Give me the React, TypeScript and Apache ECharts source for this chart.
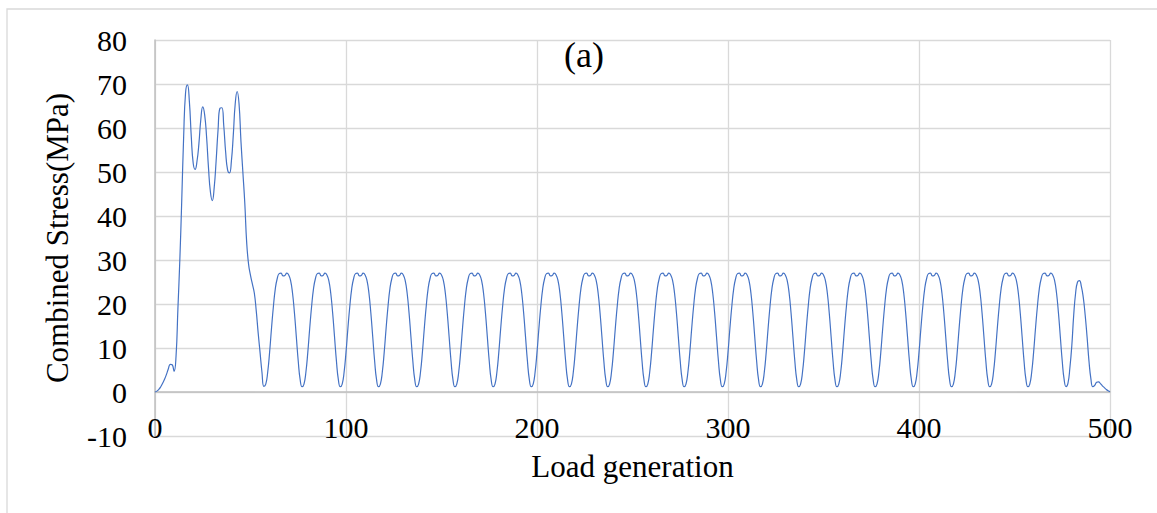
import React, { useEffect, useRef } from "react";
import * as echarts from "echarts";

// Load generation 0..56: ramp and initial high-stress peaks
const rampStress: number[] = [
  0, 0.2, 0.6, 1.2, 2.0, 2.9, 4.0, 5.3, 6.3, 6.2,
  4.7, 8.0, 19.0, 30.0, 43.5, 58.0, 68.0, 69.8, 66.0, 58.0,
  52.0, 50.6, 52.5, 56.5, 62.0, 64.8, 63.0, 58.0, 51.0, 45.5,
  43.5, 46.5, 52.5, 59.5, 64.5, 64.6, 60.5, 54.5, 50.5, 49.8,
  52.5, 58.5, 65.5, 68.3, 65.5, 57.0, 50.0, 43.0, 34.0, 29.0,
  26.5, 24.5, 22.5, 18.5, 13.5, 9.0, 4.5,
];

// Load generation 57..476: one row per cycle of 20 generations
const cyclicStress: number[][] = [
  [1.3, 1.8, 4.5, 9.0, 14.5, 19.5, 23.5, 25.8, 26.9, 27.0, 26.4, 26.5, 27.0, 26.6, 25.3, 22.5, 18.0, 12.5, 7.0, 2.8],
  [1.2, 1.8, 4.5, 9.0, 14.5, 19.5, 23.5, 25.8, 26.9, 27.0, 26.4, 26.5, 27.0, 26.6, 25.3, 22.5, 18.0, 12.5, 7.0, 2.8],
  [1.2, 1.8, 4.5, 9.0, 14.5, 19.5, 23.5, 25.8, 26.9, 27.0, 26.4, 26.5, 27.0, 26.6, 25.3, 22.5, 18.0, 12.5, 7.0, 2.8],
  [1.2, 1.8, 4.5, 9.0, 14.5, 19.5, 23.5, 25.8, 26.9, 27.0, 26.4, 26.5, 27.0, 26.6, 25.3, 22.5, 18.0, 12.5, 7.0, 2.8],
  [1.2, 1.8, 4.5, 9.0, 14.5, 19.5, 23.5, 25.8, 26.9, 27.0, 26.4, 26.5, 27.0, 26.6, 25.3, 22.5, 18.0, 12.5, 7.0, 2.8],
  [1.2, 1.8, 4.5, 9.0, 14.5, 19.5, 23.5, 25.8, 26.9, 27.0, 26.4, 26.5, 27.0, 26.6, 25.3, 22.5, 18.0, 12.5, 7.0, 2.8],
  [1.2, 1.8, 4.5, 9.0, 14.5, 19.5, 23.5, 25.8, 26.9, 27.0, 26.4, 26.5, 27.0, 26.6, 25.3, 22.5, 18.0, 12.5, 7.0, 2.8],
  [1.2, 1.8, 4.5, 9.0, 14.5, 19.5, 23.5, 25.8, 26.9, 27.0, 26.4, 26.5, 27.0, 26.6, 25.3, 22.5, 18.0, 12.5, 7.0, 2.8],
  [1.2, 1.8, 4.5, 9.0, 14.5, 19.5, 23.5, 25.8, 26.9, 27.0, 26.4, 26.5, 27.0, 26.6, 25.3, 22.5, 18.0, 12.5, 7.0, 2.8],
  [1.2, 1.8, 4.5, 9.0, 14.5, 19.5, 23.5, 25.8, 26.9, 27.0, 26.4, 26.5, 27.0, 26.6, 25.3, 22.5, 18.0, 12.5, 7.0, 2.8],
  [1.2, 1.8, 4.5, 9.0, 14.5, 19.5, 23.5, 25.8, 26.9, 27.0, 26.4, 26.5, 27.0, 26.6, 25.3, 22.5, 18.0, 12.5, 7.0, 2.8],
  [1.2, 1.8, 4.5, 9.0, 14.5, 19.5, 23.5, 25.8, 26.9, 27.0, 26.4, 26.5, 27.0, 26.6, 25.3, 22.5, 18.0, 12.5, 7.0, 2.8],
  [1.2, 1.8, 4.5, 9.0, 14.5, 19.5, 23.5, 25.8, 26.9, 27.0, 26.4, 26.5, 27.0, 26.6, 25.3, 22.5, 18.0, 12.5, 7.0, 2.8],
  [1.2, 1.8, 4.5, 9.0, 14.5, 19.5, 23.5, 25.8, 26.9, 27.0, 26.4, 26.5, 27.0, 26.6, 25.3, 22.5, 18.0, 12.5, 7.0, 2.8],
  [1.2, 1.8, 4.5, 9.0, 14.5, 19.5, 23.5, 25.8, 26.9, 27.0, 26.4, 26.5, 27.0, 26.6, 25.3, 22.5, 18.0, 12.5, 7.0, 2.8],
  [1.2, 1.8, 4.5, 9.0, 14.5, 19.5, 23.5, 25.8, 26.9, 27.0, 26.4, 26.5, 27.0, 26.6, 25.3, 22.5, 18.0, 12.5, 7.0, 2.8],
  [1.2, 1.8, 4.5, 9.0, 14.5, 19.5, 23.5, 25.8, 26.9, 27.0, 26.4, 26.5, 27.0, 26.6, 25.3, 22.5, 18.0, 12.5, 7.0, 2.8],
  [1.2, 1.8, 4.5, 9.0, 14.5, 19.5, 23.5, 25.8, 26.9, 27.0, 26.4, 26.5, 27.0, 26.6, 25.3, 22.5, 18.0, 12.5, 7.0, 2.8],
  [1.2, 1.8, 4.5, 9.0, 14.5, 19.5, 23.5, 25.8, 26.9, 27.0, 26.4, 26.5, 27.0, 26.6, 25.3, 22.5, 18.0, 12.5, 7.0, 2.8],
  [1.2, 1.8, 4.5, 9.0, 14.5, 19.5, 23.5, 25.8, 26.9, 27.0, 26.4, 26.5, 27.0, 26.6, 25.3, 22.5, 18.0, 12.5, 7.0, 2.8],
  [1.2, 1.8, 4.5, 9.0, 14.5, 19.5, 23.5, 25.8, 26.9, 27.0, 26.4, 26.5, 27.0, 26.6, 25.3, 22.5, 18.0, 12.5, 7.0, 2.8],
];

// Load generation 477..500: final shorter peak and decay
const tailStress: number[] = [
  1.2, 2.0, 5.5, 10.5, 17.5, 22.5, 25.0, 25.3, 24.0, 21.5,
  17.5, 12.5, 7.0, 3.0, 1.2, 1.5, 2.2, 2.3, 1.9, 1.4,
  1.0, 0.6, 0.3, 0.1,
];

const xTicks = { min: 0, max: 500, interval: 100 };
const yTicks = { min: -10, max: 80, interval: 10 };
const xName = "Load generation";
const yName = "Combined Stress(MPa)";
const panelLabel = "(a)";

const FONT = "Liberation Serif";

export default function App() {
  const ref = useRef<HTMLDivElement>(null);
  useEffect(() => {
    if (!ref.current) return;
    const chart = echarts.init(ref.current, null, { renderer: "svg" });
    const stress = [...rampStress, ...cyclicStress.flat(), ...tailStress];
    const data = stress.map((v, i) => [i, v]);
    const labelStyle = { fontFamily: FONT, fontSize: 30, color: "#000" };
    chart.setOption({
      animation: false,
      backgroundColor: "#ffffff",
      textStyle: { fontFamily: FONT },
      grid: {
        left: 155,
        top: 40,
        right: 47,
        bottom: 77,
        containLabel: false,
        outerBoundsMode: "none",
      },
      graphic: [
        {
          type: "rect",
          shape: { x: 7, y: 9, width: 1160, height: 520 },
          style: { fill: "none", stroke: "#d9d9d9", lineWidth: 1.3 },
          silent: true,
        },
        {
          type: "text",
          x: 584,
          y: 55,
          style: {
            text: panelLabel,
            fontFamily: FONT,
            fontSize: 36,
            fill: "#000",
            align: "center",
            verticalAlign: "middle",
          },
        },
      ],
      xAxis: {
        type: "value",
        min: xTicks.min,
        max: xTicks.max,
        interval: xTicks.interval,
        name: xName,
        nameLocation: "middle",
        nameGap: 15,
        nameTextStyle: { fontFamily: FONT, fontSize: 31, color: "#000" },
        axisLine: { show: true, onZero: true, lineStyle: { color: "#bfbfbf", width: 1.5 } },
        axisTick: { show: false },
        axisLabel: { ...labelStyle, margin: -24 },
        splitLine: { show: true, lineStyle: { color: "#d9d9d9", width: 1.3 } },
      },
      yAxis: {
        type: "value",
        min: yTicks.min,
        max: yTicks.max,
        interval: yTicks.interval,
        name: yName,
        nameLocation: "middle",
        nameGap: 82,
        nameTextStyle: { fontFamily: FONT, fontSize: 31, color: "#000" },
        axisLine: { show: true, lineStyle: { color: "#bfbfbf", width: 1.5 } },
        axisTick: { show: false },
        axisLabel: { ...labelStyle, margin: 28 },
        splitLine: { show: true, lineStyle: { color: "#d9d9d9", width: 1.3 } },
      },
      series: [
        {
          type: "line",
          data,
          smooth: 0.5,
          showSymbol: false,
          symbol: "none",
          lineStyle: { color: "#4472c4", width: 1.2 },
        },
      ],
    });
    return () => chart.dispose();
  }, []);
  return (
    <div
      ref={ref}
      style={{ position: "absolute", left: 0, top: 0, width: 1157, height: 513 }}
    />
  );
}
